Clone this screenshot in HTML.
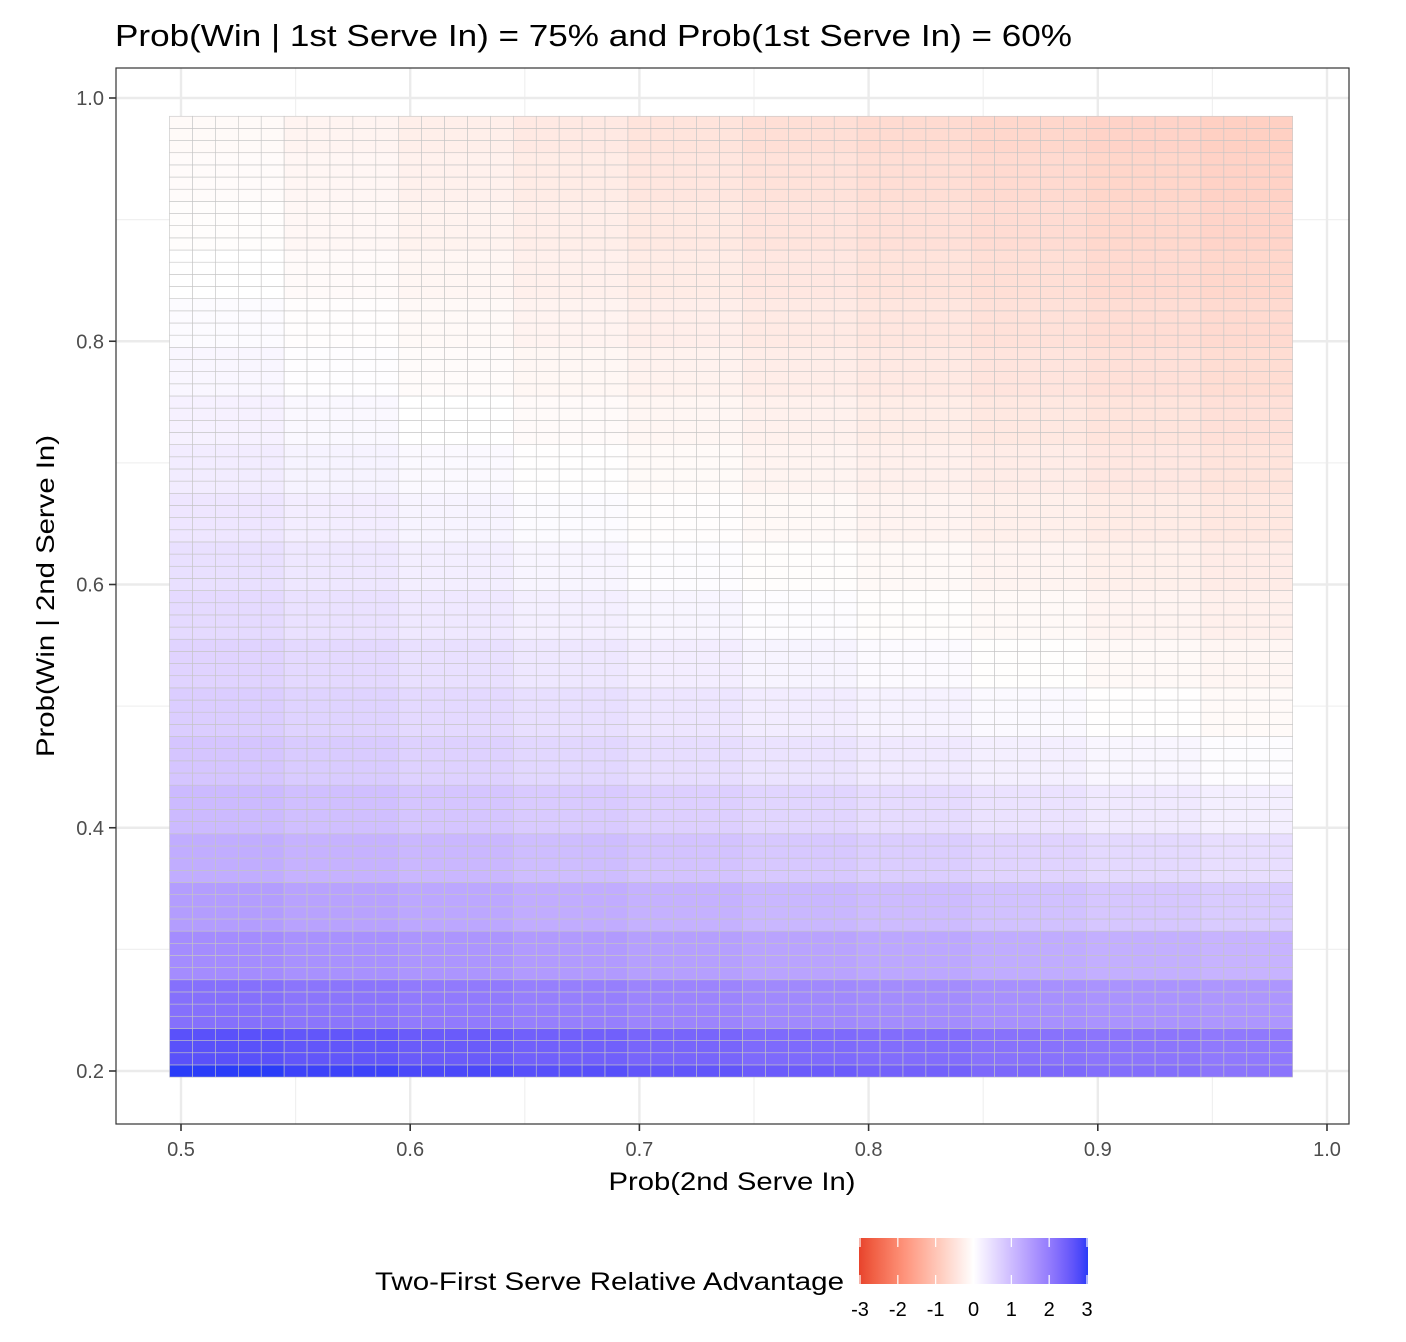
<!DOCTYPE html>
<html><head><meta charset="utf-8">
<style>
html,body{margin:0;padding:0;background:#fff;}
svg{display:block;font-family:"Liberation Sans",Arial,sans-serif;}
</style></head>
<body>
<svg id="chart" width="1406" height="1342" viewBox="0 0 1406 1342" xmlns="http://www.w3.org/2000/svg">
  <defs>
    <linearGradient id="legendGrad" x1="0" x2="1" y1="0" y2="0"></linearGradient>
  </defs>
  <text x="115" y="46" font-size="31" fill="#000" textLength="957" lengthAdjust="spacingAndGlyphs">Prob(Win | 1st Serve In) = 75% and Prob(1st Serve In) = 60%</text>
  <rect x="116" y="68" width="1233" height="1056" fill="#fff"/>
  <g id="grid"></g>
  <g id="tiles"></g>
  <rect x="116" y="68" width="1233" height="1056" fill="none" stroke="#333" stroke-width="1.2"/>
  <g id="axes"></g>
  <text x="732" y="1190" font-size="25" text-anchor="middle" fill="#000" textLength="247" lengthAdjust="spacingAndGlyphs">Prob(2nd Serve In)</text>
  <text transform="translate(54,596) rotate(-90)" font-size="25" text-anchor="middle" fill="#000" textLength="322" lengthAdjust="spacingAndGlyphs">Prob(Win | 2nd Serve In)</text>
  <g id="legend">
    <text x="844" y="1290" font-size="25" text-anchor="end" fill="#000" textLength="469" lengthAdjust="spacingAndGlyphs">Two-First Serve Relative Advantage</text>
    <rect x="859" y="1238" width="229" height="46" fill="url(#legendGrad)"/>
  </g>
</svg>
<script>
// ---- data ----
const xCells = [];   // x categories (Prob 2nd serve in), 0.50..0.98
for (let i = 50; i <= 98; i++) xCells.push(i / 100);
const yCells = [];   // y categories (Prob win | 2nd serve in), 0.20..0.98
for (let i = 20; i <= 98; i++) yCells.push(i / 100);
// value grid: rows = y buckets of 0.04 starting 0.20, cols = x buckets of 0.05 starting 0.50
const yBucketStart = [0.20,0.24,0.28,0.32,0.36,0.40,0.44,0.48,0.52,0.56,0.60,0.64,0.68,0.72,0.76,0.80,0.84,0.88,0.92,0.96];
const xBucketStart = [0.50,0.55,0.60,0.65,0.70,0.75,0.80,0.85,0.90,0.95];
const values = [
[2.67,2.59,2.51,2.43,2.35,2.27,2.21,2.14,2.08,2.02],
[2.17,2.09,2.01,1.93,1.85,1.78,1.73,1.67,1.62,1.57],
[1.72,1.65,1.58,1.51,1.44,1.37,1.31,1.24,1.18,1.12],
[1.47,1.39,1.31,1.23,1.15,1.07,1.00,0.92,0.84,0.77],
[1.22,1.14,1.06,0.98,0.90,0.81,0.73,0.64,0.55,0.48],
[1.02,0.94,0.86,0.78,0.70,0.61,0.52,0.42,0.32,0.23],
[0.86,0.77,0.68,0.59,0.50,0.41,0.32,0.23,0.13,0.05],
[0.74,0.65,0.56,0.47,0.38,0.28,0.19,0.09,-0.01,-0.09],
[0.64,0.55,0.45,0.35,0.26,0.16,0.07,-0.02,-0.10,-0.16],
[0.54,0.44,0.34,0.24,0.14,0.04,-0.04,-0.11,-0.19,-0.25],
[0.46,0.35,0.25,0.15,0.04,-0.04,-0.11,-0.19,-0.26,-0.32],
[0.36,0.26,0.16,0.06,-0.03,-0.11,-0.18,-0.26,-0.33,-0.39],
[0.28,0.18,0.08,-0.01,-0.09,-0.18,-0.25,-0.32,-0.40,-0.46],
[0.20,0.10,0.00,-0.08,-0.16,-0.24,-0.31,-0.39,-0.46,-0.52],
[0.13,0.03,-0.06,-0.14,-0.22,-0.30,-0.37,-0.45,-0.52,-0.58],
[0.06,-0.03,-0.11,-0.20,-0.28,-0.35,-0.42,-0.50,-0.57,-0.63],
[0.00,-0.08,-0.16,-0.25,-0.33,-0.40,-0.47,-0.55,-0.62,-0.68],
[-0.04,-0.13,-0.21,-0.29,-0.38,-0.45,-0.52,-0.59,-0.66,-0.72],
[-0.07,-0.15,-0.24,-0.33,-0.42,-0.49,-0.56,-0.63,-0.70,-0.76],
[-0.09,-0.19,-0.27,-0.37,-0.46,-0.54,-0.61,-0.68,-0.74,-0.80]
];
const bottomRowValues = [3.0,2.9,2.8,2.7,2.6,2.5,2.4,2.3,2.2,2.1]; // y = 0.20 row (deepest blue)
const xTicks = [0.5,0.6,0.7,0.8,0.9,1.0];
const xTickLabels = ["0.5","0.6","0.7","0.8","0.9","1.0"];
const xMinor = [0.55,0.65,0.75,0.85,0.95];
const yTicks = [0.2,0.4,0.6,0.8,1.0];
const yTickLabels = ["0.2","0.4","0.6","0.8","1.0"];
const yMinor = [0.3,0.5,0.7,0.9];
const legendTicks = [-3,-2,-1,0,1,2,3];
const legendLabels = ["-3","-2","-1","0","1","2","3"];

// ---- scales ----
const X = v => 181 + (v - 0.5) * 2292;
const Y = v => 1071 - (v - 0.2) * 1216.25;
const NS = "http://www.w3.org/2000/svg";
function mk(tag, attrs, parent){const e=document.createElementNS(NS,tag);for(const k in attrs)e.setAttribute(k,attrs[k]);parent.appendChild(e);return e;}

// Lab colour interpolation (like scale_fill_gradient2)
function toLin(c){c/=255;return c<=0.04045?c/12.92:Math.pow((c+0.055)/1.055,2.4);}
function fromLin(c){c=c<=0.0031308?12.92*c:1.055*Math.pow(c,1/2.4)-0.055;return Math.max(0,Math.min(255,Math.round(c*255)));}
function rgb2lab(h){const r=toLin(parseInt(h.slice(1,3),16)),g=toLin(parseInt(h.slice(3,5),16)),b=toLin(parseInt(h.slice(5,7),16));
 let x=(r*0.4124+g*0.3576+b*0.1805)/0.95047,y=(r*0.2126+g*0.7152+b*0.0722),z=(r*0.0193+g*0.1192+b*0.9505)/1.08883;
 const f=t=>t>0.008856?Math.cbrt(t):7.787*t+16/116;x=f(x);y=f(y);z=f(z);return [116*y-16,500*(x-y),200*(y-z)];}
function lab2rgb(L,a,bb){let y=(L+16)/116,x=a/500+y,z=y-bb/200;const f=t=>t*t*t>0.008856?t*t*t:(t-16/116)/7.787;
 x=f(x)*0.95047;y=f(y);z=f(z)*1.08883;
 const r=x*3.2406+y*-1.5372+z*-0.4986,g=x*-0.9689+y*1.8758+z*0.0415,b=x*0.0557+y*-0.2040+z*1.0570;
 return "rgb("+fromLin(r)+","+fromLin(g)+","+fromLin(b)+")";}
const LOW=rgb2lab("#e8432c"),MID=rgb2lab("#ffffff"),HIGH=rgb2lab("#2a3cf8");
function color(v){v=Math.max(-3,Math.min(3,v));const t=Math.abs(v)/3,e=v<0?LOW:HIGH;
 return lab2rgb(MID[0]+(e[0]-MID[0])*t,MID[1]+(e[1]-MID[1])*t,MID[2]+(e[2]-MID[2])*t);}

// ---- grid ----
const grid=document.getElementById("grid");
xMinor.forEach(v=>{const l=mk("line",{x1:X(v),x2:X(v),y1:68,y2:1124,stroke:"#f0f0f0","stroke-width":1.2},grid);
});
yMinor.forEach(v=>{const l=mk("line",{x1:116,x2:1349,y1:Y(v),y2:Y(v),stroke:"#f0f0f0","stroke-width":1.2},grid);
});
xTicks.forEach(v=>{const l=mk("line",{x1:X(v),x2:X(v),y1:68,y2:1124,stroke:"#ebebeb","stroke-width":2.4},grid);
});
yTicks.forEach(v=>{const l=mk("line",{x1:116,x2:1349,y1:Y(v),y2:Y(v),stroke:"#ebebeb","stroke-width":2.4},grid);
});

// ---- tiles ----
const tiles=document.getElementById("tiles");
function bucket(arr,v){let k=0;for(let i=0;i<arr.length;i++)if(v>=arr[i]-1e-9)k=i;return k;}
yCells.forEach(yv=>{
  xCells.forEach(xv=>{
    const ci=bucket(xBucketStart,xv);
    const val = yv<0.205 ? bottomRowValues[ci] : values[bucket(yBucketStart,yv)][ci];
    const x0=X(xv-0.005),x1=X(xv+0.005),y0=Y(yv+0.005),y1=Y(yv-0.005);
    const r=mk("rect",{x:x0,y:y0,width:x1-x0,height:y1-y0,fill:color(val),stroke:"#c4c4c4","stroke-width":0.6},tiles);
    
    
  });
});

// ---- axes ----
const axes=document.getElementById("axes");
xTicks.forEach((v,i)=>{
  const t=mk("line",{x1:X(v),x2:X(v),y1:1124,y2:1131,stroke:"#333","stroke-width":1.6},axes);
  
  const l=mk("text",{x:X(v),y:1156,"font-size":20,"text-anchor":"middle",fill:"#4d4d4d"},axes);
  l.textContent=xTickLabels[i];
  
});
yTicks.forEach((v,i)=>{
  const t=mk("line",{x1:109,x2:116,y1:Y(v),y2:Y(v),stroke:"#333","stroke-width":1.6},axes);
  
  const l=mk("text",{x:104,y:Y(v)+7,"font-size":20,"text-anchor":"end",fill:"#4d4d4d"},axes);
  l.textContent=yTickLabels[i];
  
});

// ---- legend ----
const grad=document.getElementById("legendGrad");
for(let i=0;i<=30;i++){const v=-3+6*i/30;mk("stop",{offset:(i/30*100)+"%","stop-color":color(v)},grad);}
const leg=document.getElementById("legend");
const LX=v=>860+(v+3)/6*227;
legendTicks.forEach((v,i)=>{
  const a=mk("line",{x1:LX(v),x2:LX(v),y1:1238,y2:1247,stroke:"#fff","stroke-width":1.2},leg);
  
  const b=mk("line",{x1:LX(v),x2:LX(v),y1:1275,y2:1284,stroke:"#fff","stroke-width":1.2},leg);
  
  const l=mk("text",{x:LX(v),y:1316,"font-size":20,"text-anchor":"middle",fill:"#000"},leg);
  l.textContent=legendLabels[i];
  
});
</script>
</body></html>
